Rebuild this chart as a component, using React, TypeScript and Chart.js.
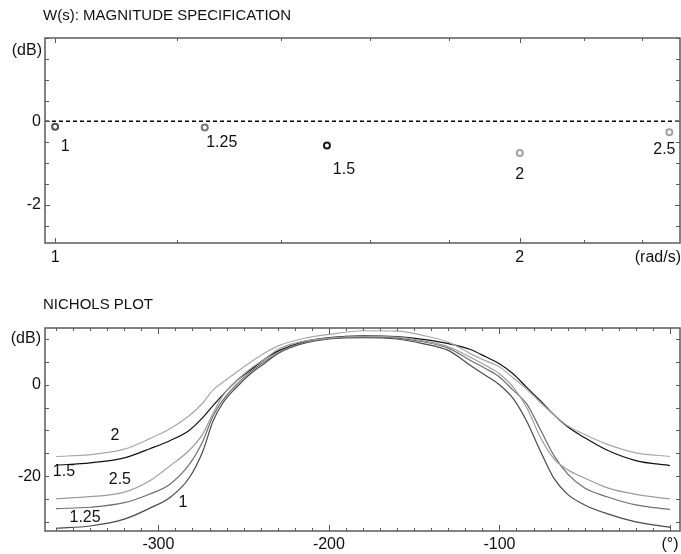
import React, { useEffect, useRef } from 'react';
import { Chart, registerables } from 'chart.js';

Chart.register(...registerables);

const FONT_FAMILY = '"Liberation Sans", Arial, Helvetica, sans-serif';

// ---------- Top plot data: W(s) magnitude specification ----------
const specFreqs = [1, 1.25, 1.5, 2, 2.5];
const specDb = [-0.13, -0.15, -0.58, -0.76, -0.26];
const specLabels = ['1', '1.25', '1.5', '2', '2.5'];
const specReferenceDb = 0;
const freqTickValues = [1, 1.2, 1.4, 1.6, 1.8, 2, 2.2, 2.4];
const freqTickLabels = ['1', '', '', '', '', '2', '', ''];

// ---------- Bottom plot data: Nichols curves ----------
const phaseDeg = [-360, -340, -320, -305, -293, -282, -274, -268, -262, -254, -246, -238, -229, -215, -200, -180, -160, -145, -130, -117, -108, -100, -92, -84, -76, -68, -60, -50, -37, -20, 0];
const magW1 = [-31.4, -30.9, -29.4, -27.0, -24.6, -20.4, -14.6, -8.0, -3.9, -0.5, 2.4, 4.6, 7.0, 9.0, 10.0, 10.3, 10.0, 9.0, 7.5, 4.2, 2.0, 0.0, -3.0, -8.0, -14.5, -20.5, -24.0, -26.3, -28.2, -30.0, -31.2];
const magW125 = [-27.1, -26.8, -25.8, -23.9, -21.7, -17.5, -12.4, -6.9, -3.3, 0.1, 2.8, 5.0, 7.1, 9.2, 10.1, 10.4, 10.2, 9.4, 8.0, 5.3, 3.5, 1.7, -1.2, -4.2, -9.8, -15.5, -19.5, -22.6, -24.5, -26.3, -27.3];
const magW15 = [-17.6, -17.1, -16.0, -14.0, -12.2, -10.0, -7.2, -4.6, -2.1, 0.9, 3.2, 5.5, 7.5, 9.4, 10.3, 10.7, 10.5, 9.9, 9.0, 7.7, 6.1, 4.6, 2.4, -0.6, -3.5, -6.6, -9.2, -11.6, -14.3, -16.6, -17.7];
const magW2 = [-15.7, -15.3, -14.1, -11.8, -9.6, -6.8, -4.0, -1.2, 0.6, 2.8, 4.9, 6.9, 8.6, 10.1, 11.0, 11.8, 11.7, 10.8, 9.3, 6.8, 5.2, 3.9, 1.5, -1.0, -3.9, -6.6, -9.0, -10.9, -13.0, -14.9, -15.7];
const magW25 = [-24.9, -24.5, -23.5, -21.0, -17.7, -14.4, -10.8, -6.3, -2.3, 0.9, 3.5, 5.5, 7.9, 9.5, 10.2, 10.6, 10.4, 9.6, 8.3, 6.0, 4.2, 2.4, -0.5, -5.0, -11.5, -16.2, -18.6, -20.4, -22.5, -24.0, -25.0];
const curveNames = ['1', '1.25', '1.5', '2', '2.5'];
const curveMags = [magW1, magW125, magW15, magW2, magW25];

// ---------- Styles / positions (not data) ----------
const specColors = ['#4e4e4e', '#777777', '#1a1a1a', '#a2a2a2', '#a2a2a2'];
const specLabelOffsets = [[10, 20], [17, 15], [17, 24], [0, 22], [-5, 17]];
const curveColors = ['#4a4a4a', '#6e6e6e', '#111111', '#a8a8a8', '#9c9c9c'];
// label anchors in data coordinates (phase, dB)
const curveLabelAnchors = [[-285.6, -25.8], [-343, -29.0], [-355.4, -19.0], [-325.5, -11.1], [-322.6, -20.7]];
const drawOrder = [3, 4, 1, 0, 2];

const TEXT_COLOR = '#111111';
const FRAME_COLOR = '#5a5a5a';

type TickCfg = {
  xMajor: (v: number) => boolean;
  xLen: [number, number];
  yMajor: (v: number) => boolean;
  yLen: [number, number];
};

function framePlugin(cfg: TickCfg) {
  return {
    id: 'frameTicks',
    afterDraw(chart: any) {
      const { ctx, chartArea: a, scales } = chart;
      const xs = scales.x;
      const ys = scales.y;
      ctx.save();
      ctx.strokeStyle = FRAME_COLOR;
      ctx.lineWidth = 1;
      ctx.beginPath();
      xs.ticks.forEach((t: any) => {
        const px = Math.round(xs.getPixelForValue(t.value)) + 0.5;
        const len = cfg.xMajor(t.value) ? cfg.xLen[1] : cfg.xLen[0];
        ctx.moveTo(px, a.bottom);
        ctx.lineTo(px, a.bottom - len);
        ctx.moveTo(px, a.top);
        ctx.lineTo(px, a.top + len);
      });
      ys.ticks.forEach((t: any) => {
        const py = Math.round(ys.getPixelForValue(t.value)) + 0.5;
        const len = cfg.yMajor(t.value) ? cfg.yLen[1] : cfg.yLen[0];
        ctx.moveTo(a.left, py);
        ctx.lineTo(a.left + len, py);
        ctx.moveTo(a.right, py);
        ctx.lineTo(a.right - len, py);
      });
      ctx.stroke();
      ctx.lineWidth = 1.5;
      ctx.strokeRect(a.left, a.top, a.right - a.left, a.bottom - a.top);
      ctx.restore();
    },
  };
}

const isNear = (a: number, b: number) => Math.abs(a - b) < 1e-6;

const fitX = (h: number) => (s: any) => {
  s.height = h;
  s.paddingLeft = 0;
  s.paddingRight = 0;
};
const fitY = (w: number) => (s: any) => {
  s.width = w;
  s.paddingTop = 0;
  s.paddingBottom = 0;
};

function TopChart() {
  const ref = useRef<HTMLCanvasElement | null>(null);
  useEffect(() => {
    if (!ref.current) return;
    const textPlugin = {
      id: 'topText',
      beforeDatasetsDraw(chart: any) {
        const { ctx, chartArea: a, scales } = chart;
        const py = scales.y.getPixelForValue(specReferenceDb);
        ctx.save();
        ctx.strokeStyle = '#000';
        ctx.lineWidth = 1.5;
        ctx.setLineDash([4, 3]);
        ctx.beginPath();
        ctx.moveTo(a.left, py);
        ctx.lineTo(a.right, py);
        ctx.stroke();
        ctx.restore();
      },
      afterDraw(chart: any) {
        const { ctx } = chart;
        const meta = chart.getDatasetMeta(0);
        ctx.save();
        ctx.fillStyle = TEXT_COLOR;
        ctx.font = `16px ${FONT_FAMILY}`;
        ctx.textAlign = 'center';
        ctx.textBaseline = 'middle';
        meta.data.forEach((el: any, i: number) => {
          const [dx, dy] = specLabelOffsets[i];
          ctx.fillText(specLabels[i], el.x + dx, el.y + dy);
        });
        ctx.font = `15px ${FONT_FAMILY}`;
        ctx.textAlign = 'left';
        ctx.fillText('W(s): MAGNITUDE SPECIFICATION', 43, 16);
        ctx.font = `16px ${FONT_FAMILY}`;
        ctx.textAlign = 'right';
        ctx.fillText('(dB)', 42, 51);
        ctx.fillText('(rad/s)', 681, 258);
        ctx.restore();
      },
    };
    const chart = new Chart(ref.current, {
      type: 'scatter',
      data: {
        datasets: [
          {
            label: 'W(s)',
            data: specFreqs.map((f, i) => ({ x: f, y: specDb[i] })),
            pointRadius: 3,
            pointBorderWidth: 2,
            pointBackgroundColor: '#ffffff',
            pointBorderColor: specColors,
            showLine: false,
          },
        ],
      },
      options: {
        animation: false,
        responsive: false,
        devicePixelRatio: 1,
        layout: { autoPadding: false, padding: { left: 0, right: 1, top: 38, bottom: 12 } },
        plugins: { legend: { display: false }, tooltip: { enabled: false }, title: { display: false } },
        scales: {
          x: {
            type: 'logarithmic',
            min: 0.985,
            max: 2.54,
            afterBuildTicks: (s: any) => {
              s.ticks = freqTickValues.map((v) => ({ value: v }));
            },
            afterFit: fitX(25),
            grid: { display: false, drawTicks: false },
            border: { display: false },
            ticks: {
              autoSkip: false,
              maxRotation: 0,
              padding: 5,
              color: TEXT_COLOR,
              font: { family: FONT_FAMILY, size: 16 },
              callback: (v: any) => {
                const idx = freqTickValues.findIndex((t) => isNear(t, Number(v)));
                return idx >= 0 ? freqTickLabels[idx] : '';
              },
            },
          },
          y: {
            min: -2.92,
            max: 2,
            afterFit: fitY(45),
            grid: { display: false, drawTicks: false },
            border: { display: false },
            ticks: {
              stepSize: 0.5,
              includeBounds: false,
              autoSkip: false,
              padding: 4,
              color: TEXT_COLOR,
              font: { family: FONT_FAMILY, size: 16 },
              callback: (v: any) => {
                const n = Number(v);
                if (isNear(n, 0)) return '0';
                if (isNear(n, -2)) return '-2';
                return '';
              },
            },
          },
        },
      },
      plugins: [
        textPlugin,
        framePlugin({
          xMajor: (v) => isNear(v, 1) || isNear(v, 2),
          xLen: [3, 5],
          yMajor: (v) => isNear(v, 0) || isNear(v, -2),
          yLen: [4, 5],
        }),
      ],
    } as any);
    return () => chart.destroy();
  }, []);
  return <canvas ref={ref} width={681} height={280} style={{ position: 'absolute', left: 0, top: 0 }} />;
}

function BottomChart() {
  const ref = useRef<HTMLCanvasElement | null>(null);
  useEffect(() => {
    if (!ref.current) return;
    const textPlugin = {
      id: 'bottomText',
      afterDraw(chart: any) {
        const { ctx, scales } = chart;
        ctx.save();
        ctx.fillStyle = TEXT_COLOR;
        ctx.font = `15px ${FONT_FAMILY}`;
        ctx.textAlign = 'left';
        ctx.textBaseline = 'middle';
        ctx.fillText('NICHOLS PLOT', 43, 25);
        ctx.font = `16px ${FONT_FAMILY}`;
        ctx.textAlign = 'center';
        curveNames.forEach((name, i) => {
          const [px, py] = curveLabelAnchors[i];
          ctx.fillText(name, scales.x.getPixelForValue(px), scales.y.getPixelForValue(py));
        });
        ctx.restore();
      },
    };
    const chart = new Chart(ref.current, {
      type: 'line',
      data: {
        datasets: drawOrder.map((i) => ({
          label: curveNames[i],
          data: phaseDeg.map((p, k) => ({ x: p, y: curveMags[i][k] })),
          borderColor: curveColors[i],
          borderWidth: 1.2,
          pointRadius: 0,
          fill: false,
          cubicInterpolationMode: 'monotone',
        })),
      },
      options: {
        animation: false,
        responsive: false,
        devicePixelRatio: 1,
        layout: { autoPadding: false, padding: { left: 0, right: 1, top: 48, bottom: 0 } },
        plugins: { legend: { display: false }, tooltip: { enabled: false }, title: { display: false } },
        scales: {
          x: {
            type: 'linear',
            min: -366.5,
            max: 5.9,
            afterFit: fitX(23),
            grid: { display: false, drawTicks: false },
            border: { display: false },
            ticks: {
              stepSize: 10,
              includeBounds: false,
              autoSkip: false,
              maxRotation: 0,
              padding: 4,
              color: TEXT_COLOR,
              font: { family: FONT_FAMILY, size: 16 },
              callback: (v: any) => {
                const n = Math.round(Number(v));
                if (n === 0) return '(°)';
                if (n % 100 === 0) return String(n);
                return '';
              },
            },
          },
          y: {
            min: -32,
            max: 12.4,
            afterFit: fitY(45),
            grid: { display: false, drawTicks: false },
            border: { display: false },
            ticks: {
              stepSize: 5,
              includeBounds: false,
              autoSkip: false,
              padding: 4,
              color: TEXT_COLOR,
              font: { family: FONT_FAMILY, size: 16 },
              callback: (v: any) => {
                const n = Math.round(Number(v));
                if (n === 10) return '(dB)';
                if (n === 0 || n === -20) return String(n);
                return '';
              },
            },
          },
        },
      },
      plugins: [
        textPlugin,
        framePlugin({
          xMajor: (v) => Math.round(v) % 100 === 0,
          xLen: [3, 6],
          yMajor: () => false,
          yLen: [4, 4],
        }),
      ],
    } as any);
    return () => chart.destroy();
  }, []);
  return <canvas ref={ref} width={681} height={274} style={{ position: 'absolute', left: 0, top: 280 }} />;
}

export default function App() {
  return (
    <div style={{ position: 'fixed', left: 0, top: 0, width: 681, height: 554, background: '#ffffff', overflow: 'hidden' }}>
      <TopChart />
      <BottomChart />
    </div>
  );
}
